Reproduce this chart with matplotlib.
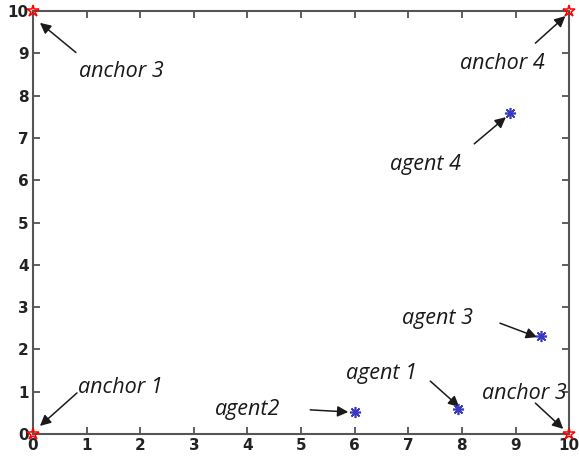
import numpy as np
import matplotlib.pyplot as plt

# anchor nodes (corners) and agent positions
anchor_x = [0, 10, 0, 10]
anchor_y = [0, 10, 10, 0]
agent_x = [6.0, 7.92, 9.48, 8.9]
agent_y = [0.52, 0.6, 2.32, 7.6]

# labels: text, text position, arrow tail, arrow head
labels = ['anchor 3', 'anchor 4', 'agent 4', 'agent 3', 'agent 1', 'agent2', 'anchor 1', 'anchor 3']
text_xy = [(0.86, 8.58), (7.97, 8.75), (6.66, 6.36), (6.88, 2.72),
           (5.84, 1.42), (3.40, 0.59), (0.84, 1.11), (8.38, 0.95)]
tails = [(0.8, 9.02), (9.37, 9.24), (8.23, 6.86), (8.71, 2.62),
         (7.41, 1.25), (5.17, 0.57), (0.82, 0.97), (9.37, 0.73)]
heads = [(0.13, 9.72), (9.93, 9.88), (8.82, 7.49), (9.40, 2.29),
         (7.95, 0.64), (5.88, 0.52), (0.13, 0.19), (9.89, 0.12)]

fig = plt.figure(figsize=(5.79, 4.59), dpi=100)
ax = fig.add_axes([0.057, 0.0545, 0.926, 0.9215])

ax.plot(anchor_x, anchor_y, '*', mfc='none', mec='red', ms=9, mew=1.1, clip_on=False, zorder=5)
ax.plot(agent_x, agent_y, marker=(8, 2, 0), ls='none', color='#3a3ac0', ms=8, mew=1.2, zorder=5)

for lab, (tx, ty), (x0, y0), (x1, y1) in zip(labels, text_xy, tails, heads):
    ax.text(tx, ty, lab, fontsize=15.5, style='italic', family='Open Sans',
            color='#1a1a1a', va='center', ha='left')
    ax.annotate('', xy=(x1, y1), xytext=(x0, y0),
                arrowprops=dict(arrowstyle='-|>', color='#1a1a1a', lw=1.1,
                                mutation_scale=16, shrinkA=0, shrinkB=0))

ax.set_xlim(0, 10)
ax.set_ylim(0, 10)
ax.set_xticks(np.arange(0, 11))
ax.set_yticks(np.arange(0, 11))
ax.tick_params(direction='in', top=True, right=True, length=5, width=1.2,
               color='#444444', labelsize=11, pad=3)
for lab in ax.get_xticklabels() + ax.get_yticklabels():
    lab.set_fontweight('bold')
    lab.set_color('#222222')
for s in ax.spines.values():
    s.set_linewidth(1.5)
    s.set_color('#555555')

fig.savefig('out.png', dpi=100)
